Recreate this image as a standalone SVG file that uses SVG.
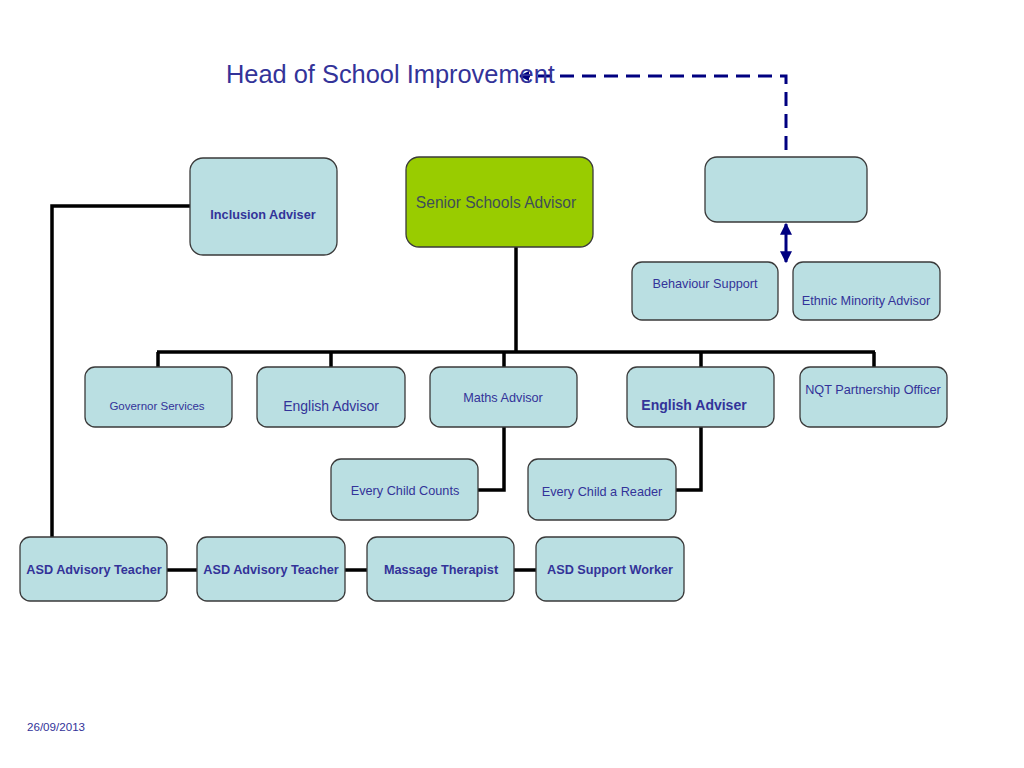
<svg xmlns="http://www.w3.org/2000/svg" width="1024" height="768" viewBox="0 0 1024 768">
<defs>
<style>
.box{fill:#badfe2;stroke:#3a3a3a;stroke-width:1.3}
.green{fill:#99cc00;stroke:#3a3a3a;stroke-width:1.3}
.t{font-family:"Liberation Sans",Arial,sans-serif;fill:#333399;text-anchor:middle}
.b{font-weight:bold}
.ln{stroke:#000;stroke-width:3.5;fill:none}
.nv{stroke:#000080;stroke-width:3;fill:none}
</style>
<marker id="ah" viewBox="0 0 10 10" refX="9" refY="5" markerWidth="3.5" markerHeight="3.5" orient="auto-start-reverse" markerUnits="strokeWidth">
<path d="M0,0 L10,5 L0,10 z" fill="#000080"/>
</marker>
<marker id="ah2" viewBox="0 0 10 10" refX="9" refY="5" markerWidth="4" markerHeight="4" orient="auto-start-reverse" markerUnits="strokeWidth">
<path d="M0,0 L10,5 L0,10 z" fill="#000080"/>
</marker>
</defs>
<rect width="1024" height="768" fill="#fff"/>
<g id="connectors">
<path class="nv" d="M786,150 V76 H520" stroke-dasharray="14,8" marker-end="url(#ah)"/>
<line class="nv" x1="786" y1="224" x2="786" y2="262" marker-start="url(#ah2)" marker-end="url(#ah2)"/>
<path class="ln" d="M516,247 V352"/>
<path class="ln" d="M157,352 H875"/>
<path class="ln" d="M158,352 V367 M331,352 V367 M504,352 V367 M701,352 V367 M874,352 V367"/>
<path class="ln" d="M504,427 V490 H478"/>
<path class="ln" d="M701,427 V490 H676"/>
<path class="ln" d="M190,206 H52 V537"/>
<path class="ln" d="M166,570 H197 M344,570 H367 M514,570 H536"/>
</g>
<g id="title"><text class="t" x="226" y="83" font-size="25.4" style="text-anchor:start">Head of School Improvement</text></g>
<g id="inclusion"><rect class="box" x="190" y="158" width="147" height="97" rx="13"/><text class="t b" x="263" y="219" font-size="12.7">Inclusion Adviser</text></g>
<g id="senior"><rect class="green" x="406" y="157" width="187" height="90" rx="13"/><text class="t" x="496" y="208" font-size="15.6" style="fill:#3f4f57">Senior Schools Advisor</text></g>
<g id="topright"><rect class="box" x="705" y="157" width="162" height="65" rx="12"/></g>
<g id="behaviour"><rect class="box" x="632" y="262" width="146" height="58" rx="10"/><text class="t" x="705" y="288" font-size="12.7">Behaviour Support</text></g>
<g id="ethnic"><rect class="box" x="793" y="262" width="147" height="58" rx="10"/><text class="t" x="866" y="305" font-size="12.7">Ethnic Minority Advisor</text></g>
<g id="governor"><rect class="box" x="85" y="367" width="147" height="60" rx="10"/><text class="t" x="157" y="410" font-size="11.5">Governor Services</text></g>
<g id="english1"><rect class="box" x="257" y="367" width="148" height="60" rx="10"/><text class="t" x="331" y="411" font-size="14">English Advisor</text></g>
<g id="maths"><rect class="box" x="430" y="367" width="147" height="60" rx="10"/><text class="t" x="503" y="402" font-size="12.7">Maths Advisor</text></g>
<g id="english2"><rect class="box" x="627" y="367" width="147" height="60" rx="10"/><text class="t b" x="694" y="410" font-size="14">English Adviser</text></g>
<g id="nqt"><rect class="box" x="800" y="367" width="147" height="60" rx="10"/><text class="t" x="873" y="394" font-size="12.7">NQT Partnership Officer</text></g>
<g id="ecc"><rect class="box" x="331" y="459" width="147" height="61" rx="10"/><text class="t" x="405" y="495" font-size="12.7">Every Child Counts</text></g>
<g id="ecr"><rect class="box" x="528" y="459" width="148" height="61" rx="10"/><text class="t" x="602" y="496" font-size="12.7">Every Child a Reader</text></g>
<g id="asd1"><rect class="box" x="20" y="537" width="147" height="64" rx="10"/><text class="t b" x="94" y="574" font-size="12.7">ASD Advisory Teacher</text></g>
<g id="asd2"><rect class="box" x="197" y="537" width="148" height="64" rx="10"/><text class="t b" x="271" y="574" font-size="12.7">ASD Advisory Teacher</text></g>
<g id="massage"><rect class="box" x="367" y="537" width="147" height="64" rx="10"/><text class="t b" x="441" y="574" font-size="12.7">Massage Therapist</text></g>
<g id="asdsupport"><rect class="box" x="536" y="537" width="148" height="64" rx="10"/><text class="t b" x="610" y="574" font-size="12.7">ASD Support Worker</text></g>
<g id="date"><text class="t" x="27" y="731" font-size="11.6" style="text-anchor:start">26/09/2013</text></g>
</svg>
